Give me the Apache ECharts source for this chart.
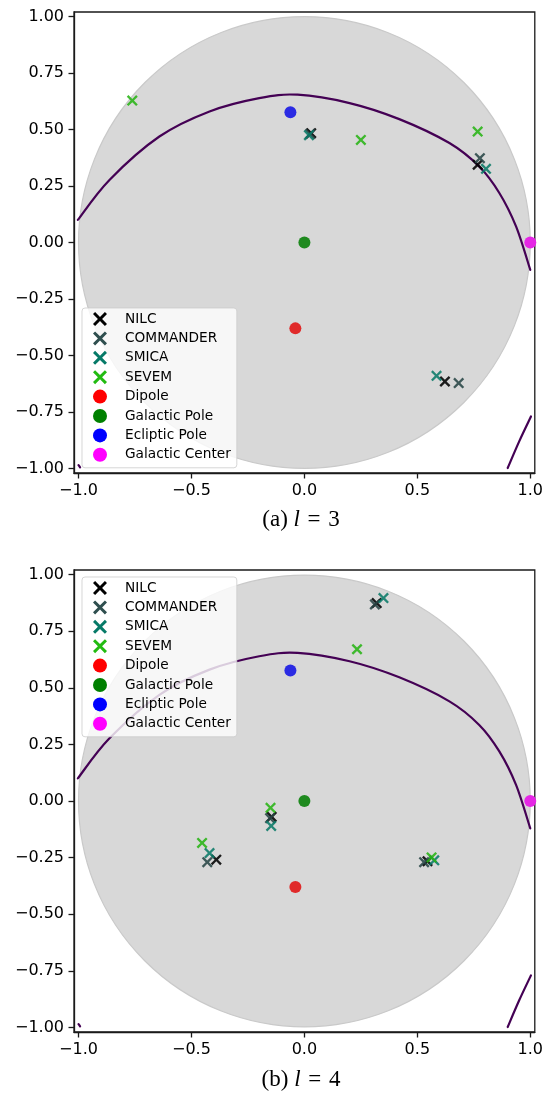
<!DOCTYPE html>
<html>
<head>
<meta charset="utf-8">
<script src="https://cdn.jsdelivr.net/npm/echarts@6/dist/echarts.min.js"></script>
<style>
  html, body { margin: 0; padding: 0; background: #fff; }
  #chart { width: 546px; height: 1094px; }
</style>
</head>
<body>
<div id="chart"></div>
<script>
// Tick positions shared by both panels
const xTicks = [-1, -0.5, 0, 0.5, 1];
const yTicks = [-1, -0.75, -0.5, -0.25, 0, 0.25, 0.5, 0.75, 1];

// Shaded hemisphere disc: [centre x, centre y, radius]
const disc = [[0, 0, 1]];

// Ecliptic trace, split where it leaves the frame
const eclipticMain = [
  [-1.003, 0.100], [-0.863, 0.277], [-0.642, 0.469], [-0.420, 0.580],
  [-0.200, 0.639], [-0.030, 0.654], [0.200, 0.617], [0.420, 0.546],
  [0.642, 0.440], [0.774, 0.336], [0.863, 0.219], [0.937, 0.071], [1.000, -0.121]
];
const eclipticTail = [[0.900, -0.998], [0.951, -0.880], [1.003, -0.770]];
const eclipticStub = [[-1.000, -0.985], [-0.993, -0.995]];

// Reference directions
const dipole = [[-0.040, -0.380]];
const galacticPole = [[0.000, 0.000]];
const eclipticPole = [[-0.062, 0.576]];
const galacticCenter = [[1.000, 0.000]];

// Multipole vectors, l = 3
const nilcL3 = [[0.030, 0.484], [0.767, 0.344], [0.622, -0.615]];
const commanderL3 = [[0.025, 0.480], [0.777, 0.373], [0.683, -0.622]];
const smicaL3 = [[0.020, 0.475], [0.804, 0.326], [0.585, -0.590]];
const sevemL3 = [[-0.762, 0.628], [0.250, 0.454], [0.767, 0.491]];

// Multipole vectors, l = 4
const nilcL4 = [[0.320, 0.874], [-0.145, -0.070], [-0.390, -0.259], [0.545, -0.266]];
const commanderL4 = [[0.312, 0.868], [-0.152, -0.076], [-0.430, -0.270], [0.530, -0.270]];
const smicaL4 = [[0.350, 0.896], [-0.147, -0.110], [-0.420, -0.230], [0.575, -0.262]];
const sevemL4 = [[0.233, 0.670], [-0.150, -0.030], [-0.453, -0.185], [0.563, -0.249]];

const panelTags = ['(a)', '(b)'];
const multipoles = [3, 4];

const crossPath = 'path://M0,1.5 L1.5,0 L5,3.5 L8.5,0 L10,1.5 L6.5,5 L10,8.5 L8.5,10 L5,6.5 L1.5,10 L0,8.5 L3.5,5 Z';

// legend colour, plotted colour (markers sit semi-transparent over the grey disc)
const crossSets = [
  { name: 'NILC', color: '#000000', plot: 'rgba(0,0,0,0.88)', data: [nilcL3, nilcL4] },
  { name: 'COMMANDER', color: '#2f4f4f', plot: 'rgba(40,70,70,0.88)', data: [commanderL3, commanderL4] },
  { name: 'SMICA', color: '#067a68', plot: 'rgba(10,122,104,0.88)', data: [smicaL3, smicaL4] },
  { name: 'SEVEM', color: '#22bb11', plot: 'rgba(40,180,20,0.88)', data: [sevemL3, sevemL4] }
];
const dotSets = [
  { name: 'Dipole', color: '#ff0000', plot: '#e02a2a', data: dipole },
  { name: 'Galactic Pole', color: '#008000', plot: '#1f8a1f', data: galacticPole },
  { name: 'Ecliptic Pole', color: '#0000ff', plot: '#2b2be3', data: eclipticPole },
  { name: 'Galactic Center', color: '#ff00ff', plot: '#e526e5', data: galacticCenter }
];

const minus = (s) => s.replace('-', '\u2212');

// Smooth path through projected points (Catmull-Rom segments as cubic Beziers)
function splinePath(pts) {
  let d = 'M' + pts[0][0] + ',' + pts[0][1];
  for (let i = 0; i < pts.length - 1; i++) {
    const p0 = pts[Math.max(i - 1, 0)], p1 = pts[i], p2 = pts[i + 1], p3 = pts[Math.min(i + 2, pts.length - 1)];
    const c1 = [p1[0] + (p2[0] - p0[0]) / 6, p1[1] + (p2[1] - p0[1]) / 6];
    const c2 = [p2[0] - (p3[0] - p1[0]) / 6, p2[1] - (p3[1] - p1[1]) / 6];
    d += ' C' + c1[0] + ',' + c1[1] + ' ' + c2[0] + ',' + c2[1] + ' ' + p2[0] + ',' + p2[1];
  }
  return d;
}

const gridTops = [12, 570];
const gridHeights = [461, 462];
const legendTops = [308, 577];
const captionY = [520, 1080];

const grids = [], xAxes = [], yAxes = [], series = [], legends = [], graphics = [];
const axisColor = '#1a1a1a';

for (let p = 0; p < 2; p++) {
  grids.push({
    left: 74, width: 462, top: gridTops[p], height: gridHeights[p],
    show: true, borderColor: axisColor, borderWidth: 1.3, backgroundColor: 'transparent'
  });
  xAxes.push({
    type: 'value', gridIndex: p, min: -1.02, max: 1.02,
    axisLine: { show: true, onZero: false, lineStyle: { color: axisColor, width: 1.3 } },
    axisTick: { show: true, length: 5.5, lineStyle: { color: axisColor, width: 1.3 }, customValues: xTicks },
    axisLabel: {
      customValues: xTicks, margin: 10, color: '#000',
      fontFamily: 'DejaVu Sans', fontSize: 16,
      formatter: (v) => minus(Number(v).toFixed(1))
    },
    splitLine: { show: false }
  });
  yAxes.push({
    type: 'value', gridIndex: p, min: -1.02, max: 1.02,
    axisLine: { show: true, onZero: false, lineStyle: { color: axisColor, width: 1.3 } },
    axisTick: { show: true, length: 5.5, lineStyle: { color: axisColor, width: 1.3 }, customValues: yTicks },
    axisLabel: {
      customValues: yTicks, margin: 10, color: '#000',
      fontFamily: 'DejaVu Sans', fontSize: 16,
      formatter: (v) => minus(Number(v).toFixed(2))
    },
    splitLine: { show: false }
  });

  // grey hemisphere
  series.push({
    type: 'custom', xAxisIndex: p, yAxisIndex: p, z: 1, silent: true,
    data: disc,
    renderItem: (params, api) => {
      const c = api.coord([api.value(0), api.value(1)]);
      const r = api.size([api.value(2), 0])[0];
      return {
        type: 'circle',
        shape: { cx: c[0], cy: c[1], r: r },
        style: { fill: '#d8d8d8', stroke: '#c9c9c9', lineWidth: 1.2 }
      };
    }
  });

  // ecliptic trace: one smooth path per segment, drawn once from its first point
  [eclipticMain, eclipticTail, eclipticStub].forEach((seg) => {
    series.push({
      type: 'custom', xAxisIndex: p, yAxisIndex: p, z: 3, silent: true,
      data: seg,
      renderItem: (params, api) => {
        if (params.dataIndex !== 0) return null;
        const pts = seg.map((v) => api.coord(v));
        return {
          type: 'path',
          shape: { pathData: splinePath(pts) },
          style: { fill: 'none', stroke: '#440154', lineWidth: 2.2, lineCap: 'round' }
        };
      }
    });
  });

  crossSets.forEach((s) => {
    series.push({
      name: s.name, type: 'scatter', xAxisIndex: p, yAxisIndex: p, z: 4,
      data: s.data[p], symbol: crossPath, symbolSize: 11,
      itemStyle: { color: s.plot, opacity: 1 }
    });
  });
  dotSets.forEach((s) => {
    series.push({
      name: s.name, type: 'scatter', xAxisIndex: p, yAxisIndex: p, z: 4,
      data: s.data, symbol: 'circle', symbolSize: 12,
      itemStyle: { color: s.plot, opacity: 1 }
    });
  });

  legends.push({
    orient: 'vertical', left: 82, top: legendTops[p],
    padding: [4, 6, 6, 11], itemWidth: 14, itemHeight: 14, itemGap: 5.4,
    backgroundColor: 'rgba(255,255,255,0.8)', borderColor: 'rgba(204,204,204,0.8)',
    borderWidth: 1, borderRadius: 3,
    textStyle: { fontFamily: 'DejaVu Sans', fontSize: 13.7, color: '#000', lineHeight: 14, padding: [0, 0, 0, 13] },
    selectedMode: false,
    data: crossSets.map((s) => ({ name: s.name, icon: crossPath, itemStyle: { color: s.color, opacity: 1 } }))
      .concat(dotSets.map((s) => ({ name: s.name, icon: 'circle', itemStyle: { color: s.color, opacity: 1 } })))
  });

  graphics.push({
    type: 'text', x: 301, y: captionY[p], z: 10,
    style: {
      text: '{n|' + panelTags[p] + ' }{i|l}{n|\u2004=\u2004' + multipoles[p] + '}',
      align: 'center', verticalAlign: 'middle',
      rich: {
        n: { fontFamily: 'Liberation Serif', fontSize: 23, fill: '#000' },
        i: { fontFamily: 'Liberation Serif', fontSize: 23, fontStyle: 'italic', fill: '#000' }
      }
    }
  });
}

const chart = echarts.init(document.getElementById('chart'), null, { renderer: 'canvas' });
chart.setOption({
  animation: false,
  backgroundColor: '#ffffff',
  grid: grids,
  xAxis: xAxes,
  yAxis: yAxes,
  legend: legends,
  series: series,
  graphic: graphics
});
</script>
</body>
</html>
